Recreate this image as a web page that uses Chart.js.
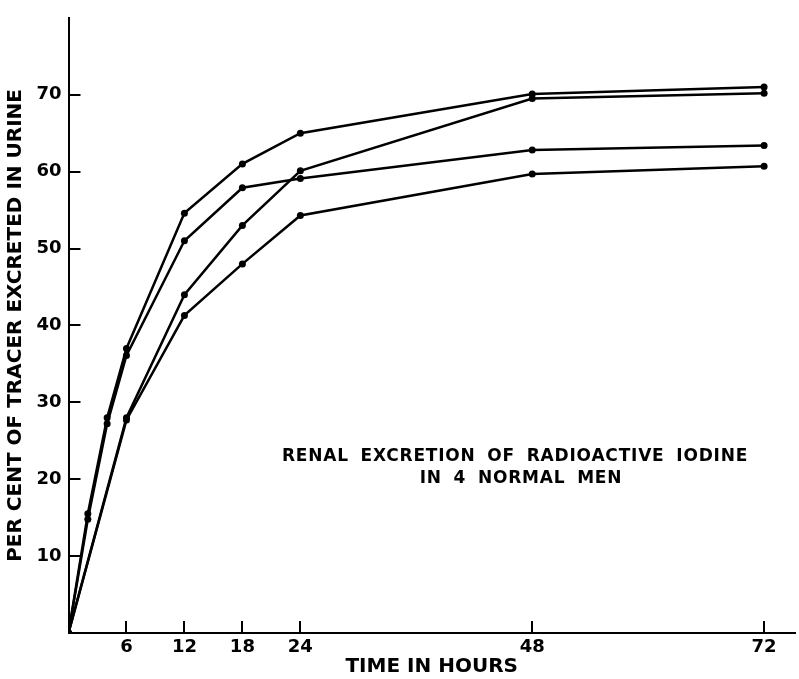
<!DOCTYPE html>
<html>
<head>
<meta charset="utf-8">
<script src="https://cdn.jsdelivr.net/npm/chart.js@4/dist/chart.umd.min.js"></script>
<style>
  html, body { margin: 0; padding: 0; background: #fff; }
  #wrap { width: 799px; height: 679px; }
</style>
</head>
<body>
<div id="wrap"><canvas id="myCanvas" width="799" height="679"></canvas></div>
<script>
'use strict';

// hours after the dose
let hoursA = [0, 2, 4, 6, 12, 18, 24, 48, 72];
let hoursB = [0, 2, 4, 6, 12, 18, 24, 48, 72];
let hoursC = [0, 6, 12, 18, 24, 48, 72];
let hoursD = [0, 6, 12, 18, 24, 48, 72];

// per cent of tracer excreted, one array per man
let manA = [0, 15.5, 28, 37, 54.6, 61, 65, 70.1, 71];
let manB = [0, 14.8, 27.2, 36.1, 51, 57.9, 59.1, 62.8, 63.4];
let manC = [0, 28, 44, 53, 60.1, 69.5, 70.2];
let manD = [0, 27.7, 41.3, 48, 54.3, 59.7, 60.7];

let xTicks = [6, 12, 18, 24, 48, 72];
let yTicks = [10, 20, 30, 40, 50, 60, 70];

let captionLines = ['RENAL EXCRETION OF RADIOACTIVE IODINE', 'IN 4 NORMAL MEN'];

function toPoints(xs, ys) {
  let pts = [];
  for (let i = 0; i < xs.length; i++) {
    pts.push({ x: xs[i], y: ys[i] });
  }
  return pts;
}

function makeSet(xs, ys) {
  return {
    data: toPoints(xs, ys),
    showLine: true,
    borderColor: '#000',
    backgroundColor: '#000',
    borderWidth: 2.5,
    pointRadius: 3.5,
    pointBorderWidth: 0,
    tension: 0,
  };
}

// small tick marks pointing into the plot, plus the caption
const inwardTicks = {
  id: 'inwardTicks',
  afterDatasetsDraw(chart) {
    const ctx = chart.ctx;
    const xs = chart.scales.x;
    const ys = chart.scales.y;
    const area = chart.chartArea;
    ctx.save();
    ctx.strokeStyle = '#000';
    ctx.lineWidth = 2;
    ctx.beginPath();
    xTicks.forEach(function (v) {
      let px = Math.round(xs.getPixelForValue(v));
      ctx.moveTo(px, area.bottom);
      ctx.lineTo(px, area.bottom - 12);
    });
    yTicks.forEach(function (v) {
      let py = Math.round(ys.getPixelForValue(v));
      ctx.moveTo(area.left, py);
      ctx.lineTo(area.left + 12, py);
    });
    ctx.stroke();

    ctx.fillStyle = '#000';
    ctx.font = 'bold 17px "DejaVu Sans"';
    ctx.letterSpacing = '0.8px';
    ctx.wordSpacing = '5px';
    ctx.textAlign = 'center';
    ctx.textBaseline = 'middle';
    ctx.fillText(captionLines[0], 515, 457);
    ctx.fillText(captionLines[1], 521, 479);
    ctx.restore();
  }
};

const chartSection = document.getElementById('myCanvas').getContext('2d');
let myChart = new Chart(chartSection, {
  type: 'scatter',
  data: {
    datasets: [
      makeSet(hoursA, manA),
      makeSet(hoursB, manB),
      makeSet(hoursC, manC),
      makeSet(hoursD, manD),
    ],
  },
  options: {
    responsive: false,
    animation: false,
    layout: { padding: { top: 8, right: 0, left: 0, bottom: 0 } },
    plugins: {
      legend: { display: false },
      tooltip: { enabled: false },
    },
    scales: {
      x: {
        type: 'linear',
        min: 0,
        max: 75.2,
        afterBuildTicks: function (scale) {
          scale.ticks = xTicks.map(function (v) { return { value: v }; });
        },
        afterFit: function (scale) { scale.height = 46; },
        grid: { display: false, drawTicks: false },
        border: { display: true, color: '#000', width: 2 },
        ticks: {
          color: '#000',
          padding: 4,
          maxRotation: 0,
          font: { family: 'DejaVu Sans', size: 18, weight: 'bold' },
        },
        title: {
          display: true,
          text: 'TIME IN HOURS',
          color: '#000',
          padding: { top: 0, bottom: 0 },
          font: { family: 'DejaVu Sans', size: 20, weight: 'bold' },
        },
      },
      y: {
        min: 0,
        max: 80,
        afterBuildTicks: function (scale) {
          scale.ticks = yTicks.map(function (v) { return { value: v }; });
        },
        afterFit: function (scale) { scale.width = 68.5; },
        grid: { display: false, drawTicks: false },
        border: { display: true, color: '#000', width: 2 },
        ticks: {
          color: '#000',
          padding: 7,
          font: { family: 'DejaVu Sans', size: 18, weight: 'bold' },
        },
        title: {
          display: true,
          text: 'PER CENT OF TRACER EXCRETED IN URINE',
          color: '#000',
          padding: { top: 4, bottom: 0 },
          font: { family: 'DejaVu Sans', size: 20, weight: 'bold' },
        },
      },
    },
  },
  plugins: [inwardTicks],
});
</script>
</body>
</html>
